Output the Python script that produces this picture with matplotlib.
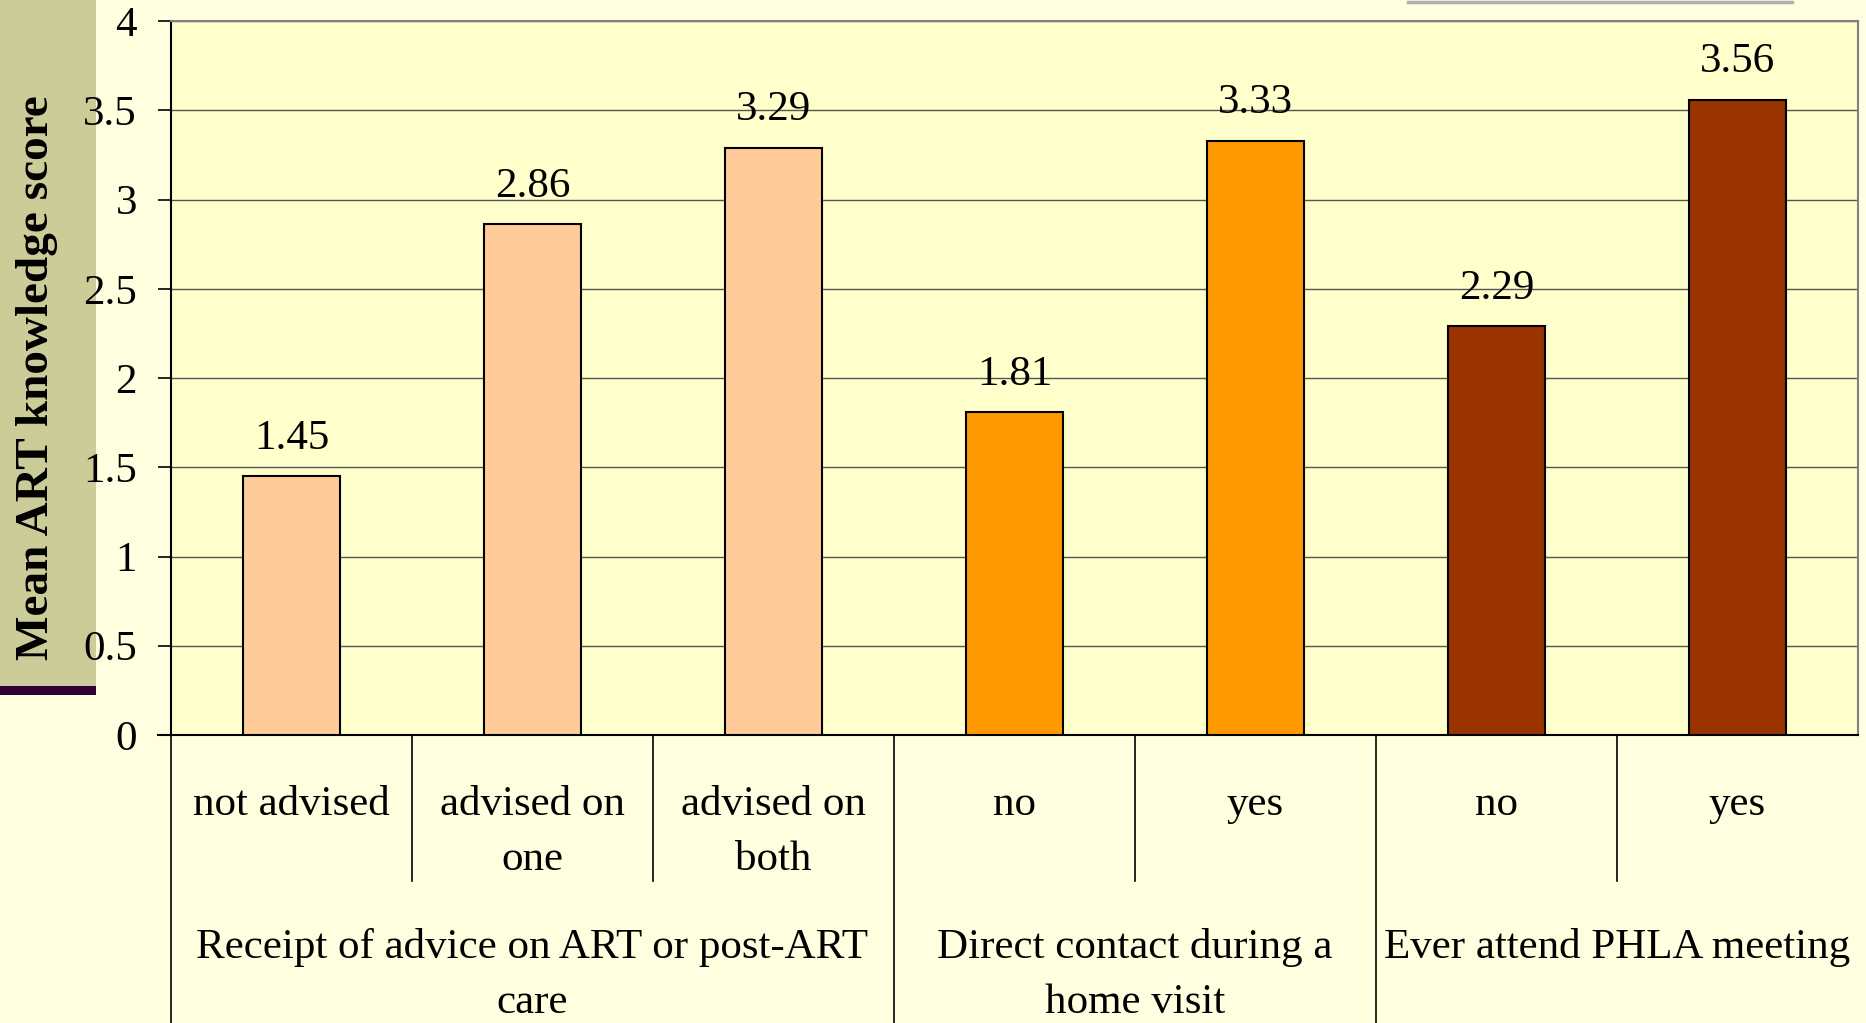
import matplotlib
matplotlib.use("Agg")
import matplotlib.pyplot as plt
import matplotlib.transforms as mtransforms
from matplotlib.patches import Rectangle
from matplotlib.lines import Line2D

categories = ["not advised", "advised on\none", "advised on\nboth", "no", "yes", "no", "yes"]
values = [1.45, 2.86, 3.29, 1.81, 3.33, 2.29, 3.56]
groups = ["Receipt of advice on ART or post-ART\ncare", "Direct contact during a\nhome visit", "Ever attend PHLA meeting"]
group_sizes = [3, 2, 2]
bar_colors = ["#FFCC99", "#FFCC99", "#FFCC99", "#FF9900", "#FF9900", "#993300", "#993300"]
yticks = [0, 0.5, 1, 1.5, 2, 2.5, 3, 3.5, 4]
ytick_labels = ["0", "0.5", "1", "1.5", "2", "2.5", "3", "3.5", "4"]
ylabel = "Mean ART knowledge score"

W, H = 1866, 1023
plt.rcParams['font.family'] = ['Liberation Serif', 'DejaVu Serif']
fig = plt.figure(figsize=(W / 100, H / 100), dpi=100)
fig.patch.set_facecolor("#FFFFE0")

# decorative khaki panel and dark bar at left
fig.patches.append(Rectangle((0, 1 - 688 / H), 96 / W, 688 / H, transform=fig.transFigure,
                             facecolor="#CCCC99", edgecolor="none", zorder=-5))
fig.patches.append(Rectangle((0, 1 - 695 / H), 96 / W, 9 / H, transform=fig.transFigure,
                             facecolor="#330033", edgecolor="none", zorder=-5))
fig.lines.append(Line2D([1408 / W, 1792 / W], [1 - 1.5 / H, 1 - 1.5 / H], transform=fig.transFigure,
                        color="#B0B0B0", lw=2.5, zorder=-5))

left, right, top, bottom = 171 / W, 1858 / W, 1 - 21 / H, 1 - 735 / H
ax = fig.add_axes([left, bottom, right - left, top - bottom])
ax.set_facecolor("#FFFFCC")
ax.patch.set_zorder(-1)

x = list(range(len(categories)))
ax.bar(x, values, width=0.4, color=bar_colors, edgecolor="black", linewidth=1.5, zorder=3)
for xi, v in zip(x, values):
    ax.annotate(f"{v:.2f}", (xi, v), xytext=(0, 27), textcoords="offset points",
                ha="center", va="center", fontsize=31, color="black")

ax.set_xlim(-0.5, len(categories) - 0.5)
ax.set_ylim(0, 4)
ax.set_yticks(yticks)
ax.set_yticklabels(ytick_labels, fontsize=31)
ax.tick_params(axis="y", length=9.5, width=1.2, pad=15, direction="out")
ax.set_xticks([])
ax.yaxis.grid(True, color="#555555", linewidth=1.0, zorder=1)
ax.set_axisbelow(True)
for s in ["top", "right"]:
    ax.spines[s].set_color("#808080")
    ax.spines[s].set_linewidth(1.5)
ax.spines["left"].set_color("black")
ax.spines["left"].set_linewidth(1.5)
ax.spines["bottom"].set_color("black")
ax.spines["bottom"].set_linewidth(1.5)

trans = mtransforms.blended_transform_factory(ax.transData, ax.transAxes)
ax_h = 735 - 21
short_end = -(881 - 735) / ax_h
long_end = -(1023 - 735) / ax_h - 0.01
line_step = 55 / ax_h

# tick at zero extending left
ax.plot([-0.5 - 13 / 241, -0.5], [0, 0], transform=trans, color="black", lw=1.5, clip_on=False)

# category labels (each line placed by its baseline)
for xi, lab in zip(x, categories):
    for i, line in enumerate(lab.split("\n")):
        ax.text(xi, -(815 - 735) / ax_h - i * line_step, line, transform=trans,
                ha="center", va="baseline", fontsize=31)

# separators
boundaries_long = [-0.5]
pos = -0.5
for g in group_sizes:
    pos += g
    boundaries_long.append(pos)
for b in range(len(categories)):
    bx = b - 0.5
    end = long_end if bx in boundaries_long else short_end
    ax.plot([bx, bx], [0, end], transform=trans, color="black", lw=1.2, clip_on=False)

# group labels
start = 0
for g, size in zip(groups, group_sizes):
    cx = start + (size - 1) / 2
    for i, line in enumerate(g.split("\n")):
        ax.text(cx, -(958 - 735) / ax_h - i * line_step, line, transform=trans,
                ha="center", va="baseline", fontsize=31)
    start += size

fig.text(37 / W, 1 - 378 / H, ylabel, rotation=90, ha="center", va="center",
         fontsize=34, fontweight="bold")

fig.savefig("out.png", dpi=100, facecolor=fig.get_facecolor())
